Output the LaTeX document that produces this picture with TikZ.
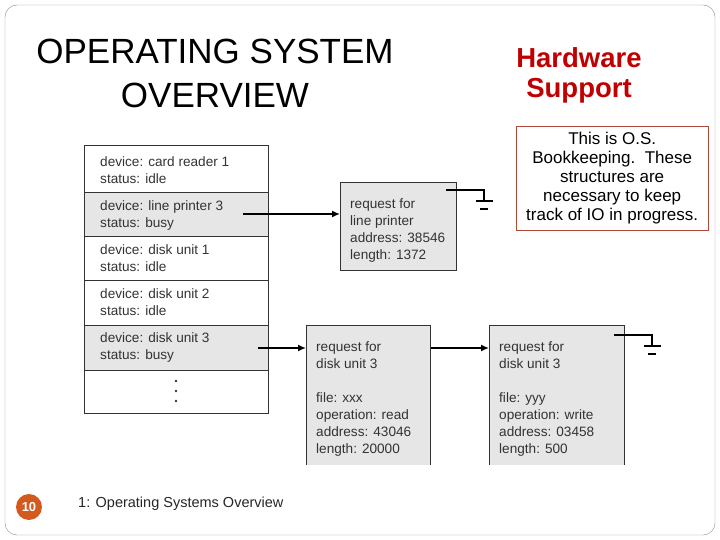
\documentclass[tikz,border=0pt]{standalone}
\usepackage{fontspec}
\setmainfont{Liberation Sans}
\usetikzlibrary{arrows.meta,calc}
\definecolor{boxgray}{HTML}{E6E6E6}
\definecolor{hwred}{HTML}{C00000}
\definecolor{notebrd}{HTML}{B04A3A}
\definecolor{pgorange}{HTML}{D35A1E}
\begin{document}
\begin{tikzpicture}[x=1pt,y=-1pt,
  cell/.style={draw=black!80,line width=0.8pt},
  gcell/.style={cell,fill=boxgray},
  txt/.style={anchor=north west,align=left,font=\fontsize{13.6}{17}\selectfont,text=black!80,inner sep=0pt},
  arr/.style={-{Latex[length=8pt,width=7pt]},line width=1.5pt},
  gnd/.style={line width=1.4pt}]
\useasboundingbox (0,0) rectangle (720,540);
\draw[black!45,rounded corners=12pt] (5,5) rectangle (715,535);
% titles
\node (t1) at (215,51) {\fontsize{35}{40}\selectfont OPERATING SYSTEM};
\node (t2) at (215,95) {\fontsize{35}{40}\selectfont OVERVIEW};
\node[text=hwred] (h1) at (579,58) {\fontsize{27.5}{30}\selectfont\bfseries Hardware};
\node[text=hwred] (h2) at (579,91) {\fontsize{27.5}{30}\selectfont\bfseries Support};
\node[draw=notebrd,minimum width=192pt,minimum height=104pt,anchor=north west,align=center,inner sep=0pt,font=\fontsize{17}{19}\selectfont] (note) at (516,126) {This is O.S.\\Bookkeeping.\ \ These\\structures are\\necessary to keep\\track of IO in progress.};
% table
\draw[cell] (84,145) rectangle (268,192);
\draw[gcell] (84,192) rectangle (268,236);
\draw[cell] (84,236) rectangle (268,280);
\draw[cell] (84,280) rectangle (268,325);
\draw[gcell] (84,325) rectangle (268,370);
\draw[cell] (84,370) rectangle (268,413);
\node[txt] (r1) at (100,156) {device: card reader 1\\status: idle};
\node[txt] (r2) at (100,200) {device: line printer 3\\status: busy};
\node[txt] (r3) at (100,244) {device: disk unit 1\\status: idle};
\node[txt] (r4) at (100,288) {device: disk unit 2\\status: idle};
\node[txt] (r5) at (100,332) {device: disk unit 3\\status: busy};
\foreach \yy in {381,391,401} \fill[black!80] (176,\yy) circle (1.3pt);
% line printer request
\node[draw=black!80,line width=0.8pt,fill=boxgray,minimum width=116pt,minimum height=88pt,anchor=north west] (lp) at (340,182) {};
\node[txt] (lpt) at (350,198) {request for\\line printer\\address: 38546\\length: 1372};
\coordinate (a1) at (243,214);
\draw[arr] (a1) -- (lp.west|-a1);
\coordinate (g1a) at (446,190);
\coordinate (g1b) at (484,190);
\coordinate (g1c) at (484,201);
\draw[gnd] (g1a) -- (g1b) -- (g1c);
\draw[gnd] ($(g1c)+(-8,0)$) -- ($(g1c)+(9,0)$);
\draw[line width=2pt] ($(g1c)+(-4,8)$) -- ($(g1c)+(4,8)$);
% disk requests
\fill[boxgray] (306,325) rectangle (430,465);
\draw[black!80,line width=0.8pt] (306,465) -- (306,325) -- (430,325) -- (430,465);
\node[txt] (d1t) at (316,341) {request for\\disk unit 3\\[17pt]file: xxx\\operation: read\\address: 43046\\length: 20000};
\fill[boxgray] (489,325) rectangle (624,465);
\draw[black!80,line width=0.8pt] (489,465) -- (489,325) -- (624,325) -- (624,465);
\node[txt] (d2t) at (499,341) {request for\\disk unit 3\\[17pt]file: yyy\\operation: write\\address: 03458\\length: 500};
\coordinate (a2) at (258,348);
\coordinate (a2e) at (306,348);
\draw[arr] (a2) -- (a2e);
\coordinate (a3) at (431,348);
\coordinate (a3e) at (489,348);
\draw[arr] (a3) -- (a3e);
\coordinate (g2a) at (614,335);
\coordinate (g2b) at (652,335);
\coordinate (g2c) at (652,346);
\draw[gnd] (g2a) -- (g2b) -- (g2c);
\draw[gnd] ($(g2c)+(-8,0)$) -- ($(g2c)+(9,0)$);
\draw[line width=2pt] ($(g2c)+(-4,8)$) -- ($(g2c)+(4,8)$);
% footer
\node[circle,fill=pgorange,minimum size=26pt,inner sep=0pt,text=white,font=\fontsize{13}{14}\selectfont\bfseries] (pg) at (29,507) {10};
\node[anchor=west,inner sep=0pt,font=\fontsize{14.5}{16}\selectfont,text=black!85] (ft) at (78,504) {1: Operating Systems Overview};
\end{tikzpicture}
\end{document}
